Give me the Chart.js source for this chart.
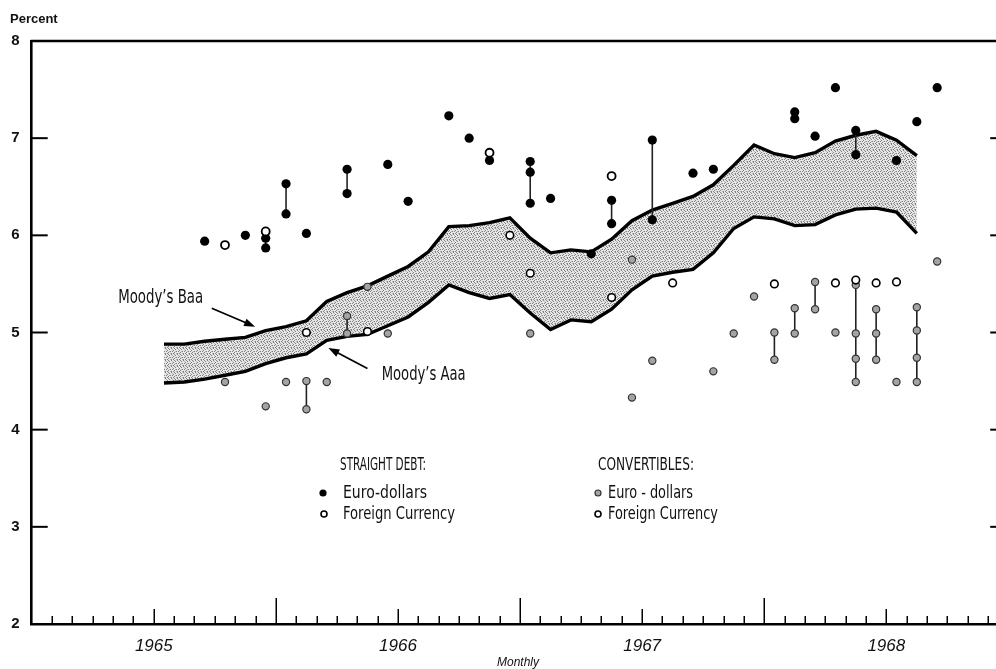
<!DOCTYPE html>
<html><head><meta charset="utf-8">
<script src="https://cdn.jsdelivr.net/npm/chart.js@4/dist/chart.umd.min.js"></script>
<style>html,body{margin:0;padding:0;background:#fff;overflow:hidden}#wrap{width:996px;height:669px;overflow:hidden}</style>
</head><body><div id="wrap"><canvas id="c" width="1003" height="669"></canvas></div>
<script>
// ---------- DATA ----------
const bandMonths = ['1965-07','1965-08','1965-09','1965-10','1965-11','1965-12',
 '1966-01','1966-02','1966-03','1966-04','1966-05','1966-06','1966-07','1966-08','1966-09','1966-10','1966-11','1966-12',
 '1967-01','1967-02','1967-03','1967-04','1967-05','1967-06','1967-07','1967-08','1967-09','1967-10','1967-11','1967-12',
 '1968-01','1968-02','1968-03','1968-04','1968-05','1968-06','1968-07','1968-08'];
const baaYields = [4.88,4.88,4.91,4.93,4.95,5.02,
 5.06,5.12,5.32,5.41,5.48,5.58,5.68,5.83,6.09,6.10,6.13,6.18,
 5.97,5.82,5.85,5.83,5.96,6.15,6.26,6.33,6.40,6.52,6.72,6.93,
 6.84,6.80,6.85,6.97,7.03,7.07,6.98,6.82];
const aaaYields = [4.48,4.49,4.52,4.56,4.60,4.68,
 4.74,4.78,4.92,4.96,4.98,5.07,5.16,5.31,5.49,5.41,5.35,5.39,
 5.20,5.03,5.13,5.11,5.24,5.44,5.58,5.62,5.65,5.82,6.07,6.19,
 6.17,6.10,6.11,6.21,6.27,6.28,6.24,6.02];

const straightEuroMonths = ['1965-09','1965-11','1965-12','1965-12','1966-01','1966-01','1966-02','1966-04','1966-04','1966-06','1966-07','1966-09','1966-10','1966-11','1967-01','1967-01','1967-01','1967-02','1967-04','1967-05','1967-05','1967-07','1967-07','1967-09','1967-10','1968-02','1968-02','1968-03','1968-04','1968-05','1968-05','1968-07','1968-08','1968-09'];
const straightEuroValues = [5.94,6.00,5.97,5.87,6.53,6.22,6.02,6.68,6.43,6.73,6.35,7.23,7.00,6.77,6.76,6.65,6.33,6.38,5.81,6.36,6.12,6.98,6.16,6.64,6.68,7.27,7.20,7.02,7.52,7.08,6.83,6.77,7.17,7.52];

const straightForeignMonths = ['1965-10','1965-12','1966-11','1967-05'];
const straightForeignValues = [5.90,6.04,6.85,6.61];

const convEuroMonths = ['1965-10','1965-12','1966-01','1966-02','1966-02','1966-03','1966-04','1966-04','1966-05','1966-06','1967-01','1967-06','1967-06','1967-07','1967-10','1967-11','1967-12','1968-01','1968-01','1968-02','1968-02','1968-03','1968-03','1968-04','1968-05','1968-05','1968-05','1968-05','1968-06','1968-06','1968-06','1968-07','1968-08','1968-08','1968-08','1968-08','1968-09'];
const convEuroValues = [4.49,4.24,4.49,4.50,4.21,4.49,5.17,4.99,5.47,4.99,4.99,5.75,4.33,4.71,4.60,4.99,5.37,5.00,4.72,5.25,4.99,5.52,5.24,5.00,5.49,4.99,4.73,4.49,5.24,4.99,4.72,4.49,5.26,5.02,4.74,4.49,5.73];

const convForeignMonths = ['1966-02','1966-05','1966-12','1967-01','1967-05','1967-08','1968-01','1968-04','1968-05','1968-06','1968-07'];
const convForeignValues = [5.00,5.01,6.00,5.61,5.36,5.51,5.50,5.51,5.54,5.51,5.52];

// same-month ranges joined by a vertical line
const rangeMonths = ['1965-12','1966-01','1966-04','1967-01','1967-05','1967-07','1968-05','1966-02','1966-04','1968-01','1968-02','1968-03','1968-05','1968-06','1968-08'];
const rangeLows   = [5.87,6.22,6.43,6.33,6.12,6.16,6.83,4.21,4.99,4.72,4.99,5.24,4.49,4.72,4.49];
const rangeHighs  = [5.97,6.53,6.68,6.76,6.36,6.98,7.08,4.50,5.17,5.00,5.25,5.52,5.49,5.24,5.26];

const yearLabels = ['1965','1966','1967','1968'];
const yTickValues = [2,3,4,5,6,7,8];

// ---------- helpers ----------
function monthPos(s){const [y,m]=s.split('-').map(Number);return (y-1965)*12+(m-1)+0.5;}
function pts(months,vals){return months.map((m,i)=>({x:monthPos(m),y:vals[i]}));}
function rangeData(){const d=[];rangeMonths.forEach((m,i)=>{const x=monthPos(m);d.push({x,y:rangeLows[i]},{x,y:rangeHighs[i]},{x,y:null});});return d;}
function makePattern(){const c=document.createElement('canvas');c.width=6;c.height=6;const g=c.getContext('2d');
 g.fillStyle='#e6e6e6';g.fillRect(0,0,6,6);g.fillStyle='#808080';
 [[0,0],[3,0],[1,1],[5,2],[2,3],[4,3],[0,4],[3,5],[5,5]].forEach(([a,b])=>g.fillRect(a,b,1,1));
 g.fillStyle='#b4b4b4';[[4,1],[1,3],[2,5]].forEach(([a,b])=>g.fillRect(a,b,1,1));
 return g.createPattern(c,'repeat');}
const NARROW="'Liberation Sans Narrow','DejaVu Sans Condensed','Roboto Condensed','Liberation Sans',sans-serif";
const SANS="'Liberation Sans','DejaVu Sans',Arial,sans-serif";
const GRAY='#a4a4a4';

function marker(ctx,type,x,y,r){
 ctx.save();ctx.beginPath();ctx.arc(x,y,r,0,Math.PI*2);
 if(type==='filled'){ctx.fillStyle='#000';ctx.fill();}
 else if(type==='gray'){ctx.fillStyle=GRAY;ctx.fill();ctx.lineWidth=1.2;ctx.strokeStyle='#333';ctx.stroke();}
 else {ctx.fillStyle='#fff';ctx.fill();ctx.lineWidth=1.6;ctx.strokeStyle='#000';ctx.stroke();}
 ctx.restore();
}
function arrow(ctx,x1,y1,x2,y2){
 ctx.save();ctx.strokeStyle='#000';ctx.fillStyle='#000';ctx.lineWidth=1.7;
 const a=Math.atan2(y2-y1,x2-x1),L=11,W=4;
 ctx.beginPath();ctx.moveTo(x1,y1);ctx.lineTo(x2-Math.cos(a)*L*0.8,y2-Math.sin(a)*L*0.8);ctx.stroke();
 ctx.beginPath();ctx.moveTo(x2,y2);
 ctx.lineTo(x2-L*Math.cos(a)+W*Math.sin(a),y2-L*Math.sin(a)-W*Math.cos(a));
 ctx.lineTo(x2-L*Math.cos(a)-W*Math.sin(a),y2-L*Math.sin(a)+W*Math.cos(a));
 ctx.closePath();ctx.fill();ctx.restore();
}
function txt(ctx,s,x,y,font,w,align){ctx.save();ctx.font=font;ctx.fillStyle='#111';ctx.textBaseline='middle';ctx.textAlign=align||'left';
 if(w){ctx.fillText(s,x,y,w);}else ctx.fillText(s,x,y);ctx.restore();}

const decor={id:'decor',
 afterDatasetsDraw(chart){
  const {ctx,chartArea:ca,scales:{x:xs,y:ys}}=chart;
  ctx.save();ctx.strokeStyle='#000';ctx.lineCap='butt';
  // top frame line
  ctx.lineWidth=2.5;ctx.beginPath();ctx.moveTo(ca.left-1,ca.top);ctx.lineTo(ca.right,ca.top);ctx.stroke();
  // inward y ticks left & right
  ctx.lineWidth=2;
  yTickValues.slice(1,-1).forEach(v=>{const py=ys.getPixelForValue(v);
   ctx.beginPath();ctx.moveTo(ca.left,py);ctx.lineTo(ca.left+16,py);ctx.stroke();
   ctx.beginPath();ctx.moveTo(ca.right-7,py);ctx.lineTo(ca.right,py);ctx.stroke();});
  // inward month ticks
  ctx.lineWidth=1.5;
  for(let k=1;k<=47;k++){const px=Math.round(xs.getPixelForValue(k))+0.25;
   const len=(k%12===0)?26:(k%12===6?15:8);
   ctx.beginPath();ctx.moveTo(px,ca.bottom);ctx.lineTo(px,ca.bottom-len);ctx.stroke();}
  ctx.restore();
  // axis texts
  txt(ctx,'Percent',10,19,"bold 13px "+SANS);
  txt(ctx,'Monthly',xs.getPixelForValue(23.9),663,"italic 12px "+SANS,null,'center');
  // band annotations
  const P=(v,w)=>[xs.getPixelForValue(v),ys.getPixelForValue(w)];
  let a=P(4.25,5.35); txt(ctx,"Moody\u2019s Baa",a[0],a[1],"19px "+NARROW,85);
  let t1=P(8.85,5.25),t2=P(10.98,5.06); arrow(ctx,t1[0],t1[1],t2[0],t2[1]);
  a=P(17.2,4.56); txt(ctx,"Moody\u2019s Aaa",a[0],a[1],"19px "+NARROW,84);
  t1=P(16.5,4.63);t2=P(14.58,4.84); arrow(ctx,t1[0],t1[1],t2[0],t2[1]);
  // legend
  const F="18px "+NARROW;
  txt(ctx,'STRAIGHT DEBT:',340,465,F,86);
  marker(ctx,'filled',323,493,3.6); txt(ctx,'Euro-dollars',343,493,F,84);
  marker(ctx,'open',324,514,3);   txt(ctx,'Foreign Currency',343,514,F,112);
  txt(ctx,'CONVERTIBLES:',598,465,F,96);
  marker(ctx,'gray',598,493,3);   txt(ctx,'Euro - dollars',608,493,F,85);
  marker(ctx,'open',598,514,3);   txt(ctx,'Foreign Currency',608,514,F,110);
 }};

const ctx=document.getElementById('c').getContext('2d');
new Chart(ctx,{
 type:'scatter',
 data:{datasets:[
  {type:'line',label:"Moody's Baa",data:pts(bandMonths,baaYields),borderColor:'#000',borderWidth:3.4,pointRadius:0,tension:0,fill:'+1',backgroundColor:makePattern(),order:7,borderJoinStyle:'miter'},
  {type:'line',label:"Moody's Aaa",data:pts(bandMonths,aaaYields),borderColor:'#000',borderWidth:3.4,pointRadius:0,tension:0,fill:false,order:6,borderJoinStyle:'miter'},
  {type:'line',label:'ranges',data:rangeData(),borderColor:'#222',borderWidth:1.6,pointRadius:0,spanGaps:false,fill:false,order:5},
  {label:'Straight debt: Euro-dollars',data:pts(straightEuroMonths,straightEuroValues),pointRadius:4.6,pointBackgroundColor:'#000',pointBorderColor:'#000',pointBorderWidth:0,order:1},
  {label:'Straight debt: Foreign Currency',data:pts(straightForeignMonths,straightForeignValues),pointRadius:4,pointBackgroundColor:'#fff',pointBorderColor:'#000',pointBorderWidth:1.8,order:0},
  {label:'Convertibles: Euro-dollars',data:pts(convEuroMonths,convEuroValues),pointRadius:3.6,pointBackgroundColor:GRAY,pointBorderColor:'#333',pointBorderWidth:1.2,order:2},
  {label:'Convertibles: Foreign Currency',data:pts(convForeignMonths,convForeignValues),pointRadius:3.8,pointBackgroundColor:'#fff',pointBorderColor:'#000',pointBorderWidth:1.6,order:1}
 ]},
 options:{
  responsive:false,animation:false,devicePixelRatio:1,
  layout:{padding:{top:41,left:0,right:0,bottom:0}},
  plugins:{legend:{display:false},tooltip:{enabled:false}},
  scales:{
   x:{type:'linear',min:0,max:47.45,
    grid:{display:false,drawTicks:false},border:{display:true,color:'#000',width:2.6},
    afterBuildTicks:s=>{s.ticks=yearLabels.map((y,i)=>({value:6+12*i}));},
    ticks:{autoSkip:false,maxRotation:0,padding:12,color:'#111',font:{family:SANS,size:17,style:'italic'},
     callback:(v)=>yearLabels[Math.round((v-6)/12)]},
    afterFit:s=>{s.height=45;s.paddingLeft=0;s.paddingRight=0;}},
   y:{type:'linear',min:2,max:8,
    grid:{display:false,drawTicks:false},border:{display:true,color:'#000',width:2.6},
    afterBuildTicks:s=>{s.ticks=yTickValues.map(v=>({value:v}));},
    ticks:{padding:12,color:'#111',font:{family:SANS,size:15,weight:'bold'}},
    afterFit:s=>{s.width=31.7;s.paddingTop=0;s.paddingBottom=0;}}
  }
 },
 plugins:[decor]
});
</script></body></html>
